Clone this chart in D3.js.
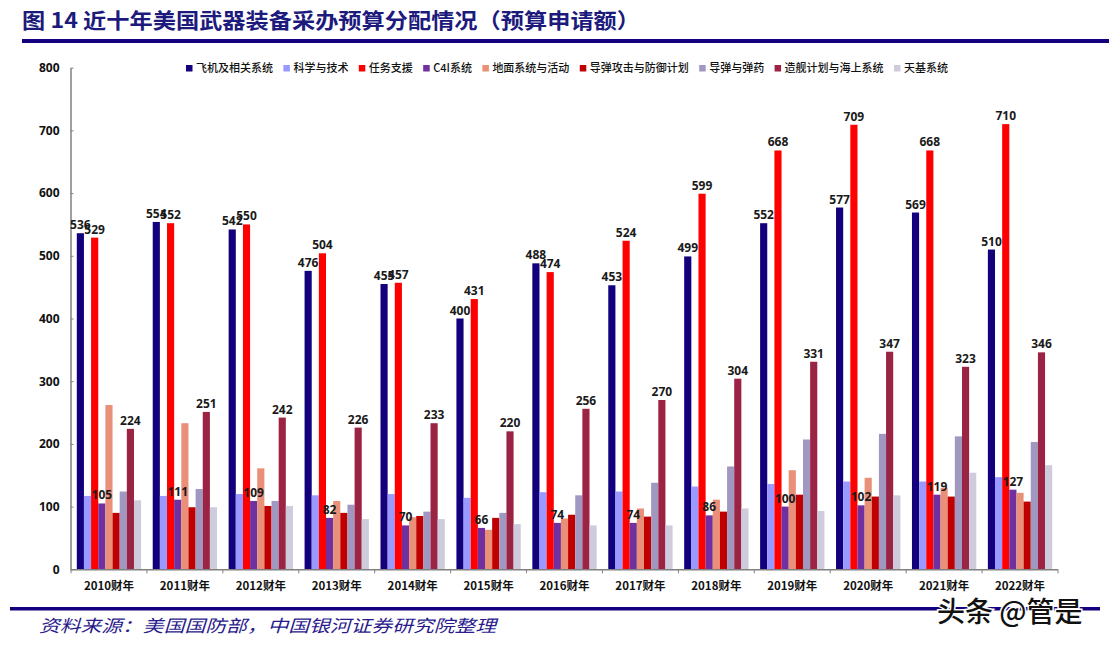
<!DOCTYPE html>
<html><head><meta charset="utf-8">
<script src="https://cdn.jsdelivr.net/npm/d3@7/dist/d3.min.js"></script>
<style>
html,body{margin:0;padding:0;background:#fff;}
svg{display:block;}
</style></head>
<body>
<svg id="chart" width="1109" height="645"></svg>
<script>
const years = ["2010财年","2011财年","2012财年","2013财年","2014财年","2015财年","2016财年","2017财年","2018财年","2019财年","2020财年","2021财年","2022财年"];
const seriesNames = ["飞机及相关系统","科学与技术","任务支援","C4I系统","地面系统与活动","导弹攻击与防御计划","导弹与弹药","造舰计划与海上系统","天基系统"];
const aircraft   = [536,554,542,476,455,400,488,453,499,552,577,569,510];
const scienceTech= [117,117,120,118,120,114,123,124,132,136,140,140,147];
const missionSup = [529,552,550,504,457,431,474,524,599,668,709,668,710];
const c4i        = [105,111,109,82,70,66,74,74,86,100,102,119,127];
const ground     = [262,233,161,109,83,63,81,97,111,158,146,130,122];
const missileDef = [90,99,101,90,85,82,87,84,92,119,116,116,108];
const munitions  = [124,128,109,103,92,90,118,138,164,207,216,212,203];
const shipbuild  = [224,251,242,226,233,220,256,270,304,331,347,323,346];
const space      = [110,99,101,80,80,72,70,70,97,93,118,154,166];
const yTicks = [0,100,200,300,400,500,600,700,800];
const labeledSeries = ["飞机及相关系统","任务支援","C4I系统","造舰计划与海上系统"];
const colors = ["#13007C","#9999FF","#FF0000","#7030A0","#EA8F78","#C00000","#A098C0","#9B2343","#CECBDD"];

const allValues = [aircraft,scienceTech,missionSup,c4i,ground,missileDef,munitions,shipbuild,space];

const svg = d3.select("#chart");
const cjk = "'Noto Sans CJK SC','Noto Sans',sans-serif";
const num = "'Open Sans','Noto Sans',sans-serif";

// Title
svg.append("text").attr("x",22).attr("y",28)
  .attr("font-family",cjk).attr("font-weight",700).attr("font-size",21)
  .attr("fill","#1C1A7C")
  .attr("textLength",618).attr("lengthAdjust","spacingAndGlyphs")
  .text("图 14 近十年美国武器装备采办预算分配情况（预算申请额）");
svg.append("rect").attr("x",22).attr("y",39).attr("width",1087).attr("height",4).attr("fill","#14007F");

// Scales
const x0 = d3.scaleBand().domain(years).range([71,1058]).paddingInner(0).paddingOuter(0);
const x1 = d3.scaleBand().domain(seriesNames).range([5.8, x0.bandwidth()-5.8]);
const y = d3.scaleLinear().domain([0,800]).range([569.3,67.7]);
const color = d3.scaleOrdinal().domain(seriesNames).range(colors);

// Y axis
const yAxis = svg.append("g").attr("transform","translate(70.5,0)")
  .call(d3.axisLeft(y).tickValues(yTicks).tickSize(-3).tickPadding(11).tickSizeOuter(0));
yAxis.select(".domain").attr("stroke","#808080").attr("stroke-width",1.5);
yAxis.selectAll(".tick line").attr("stroke","#808080");
yAxis.selectAll(".tick text").attr("font-family",num).attr("font-weight",700).attr("font-size",12).attr("fill","#111");

// Bars
const groups = svg.append("g").selectAll("g").data(years).join("g")
  .attr("transform",d=>`translate(${x0(d)},0)`);
groups.selectAll("rect").data((d,i)=>seriesNames.map((s,j)=>({s,v:allValues[j][i]})))
  .join("rect")
  .attr("x",d=>x1(d.s)).attr("width",x1.bandwidth())
  .attr("y",d=>y(d.v)).attr("height",d=>y(0)-y(d.v))
  .attr("fill",d=>color(d.s));

// X axis
const xg = svg.append("g");
xg.append("line").attr("x1",x0.range()[0]).attr("x2",x0.range()[1]).attr("y1",y(0)+0.5).attr("y2",y(0)+0.5)
  .attr("stroke","#808080").attr("stroke-width",1.5);
const bounds = years.map(d=>x0(d)).concat([x0.range()[1]]);
xg.selectAll("line.tk").data(bounds).join("line").attr("class","tk")
  .attr("x1",d=>d).attr("x2",d=>d).attr("y1",y(0)).attr("y2",y(0)+4).attr("stroke","#808080");
const xAxis = svg.append("g").attr("transform",`translate(0,${y(0)})`)
  .call(d3.axisBottom(x0).tickSize(0).tickPadding(13));
xAxis.select(".domain").remove();
xAxis.selectAll(".tick text").attr("font-family",cjk).attr("font-weight",700).attr("font-size",11.5).attr("fill","#111");

// Data labels
groups.selectAll("text.lbl").data((d,i)=>labeledSeries.map(s=>({s,v:allValues[seriesNames.indexOf(s)][i]})))
  .join("text").attr("class","lbl")
  .attr("x",d=>x1(d.s)+x1.bandwidth()/2).attr("y",d=>y(d.v)-4)
  .attr("text-anchor","middle").attr("font-family",num).attr("font-weight",700).attr("font-size",12)
  .attr("fill","#1a1a1a").text(d=>d.v);

// Legend
const lg = svg.append("g");
let lx = 186;
seriesNames.forEach((s,i)=>{
  lg.append("rect").attr("x",lx).attr("y",65).attr("width",6.5).attr("height",6.5).attr("fill",colors[i]);
  const t = lg.append("text").attr("x",lx+10).attr("y",72).attr("font-family",cjk).attr("font-weight",500)
    .attr("font-size",11).attr("fill","#111").text(s);
  lx += 10 + t.node().getComputedTextLength() + 10.4;
});

// Footer
svg.append("rect").attr("x",10).attr("y",607).attr("width",1090).attr("height",3.5).attr("fill","#14007F");
svg.append("text").attr("x",39).attr("y",632)
  .attr("font-family",cjk).attr("font-style","italic").attr("font-size",17)
  .attr("fill","#2A1A8C").attr("textLength",457).attr("lengthAdjust","spacingAndGlyphs")
  .text("资料来源：美国国防部，中国银河证券研究院整理");
svg.append("text").attr("x",937).attr("y",622)
  .attr("font-family",cjk).attr("font-weight",500).attr("font-size",28).attr("fill","#111")
  .attr("stroke","#fff").attr("stroke-width",3).attr("paint-order","stroke")
  .text("头条 @管是");
</script>
</body></html>
